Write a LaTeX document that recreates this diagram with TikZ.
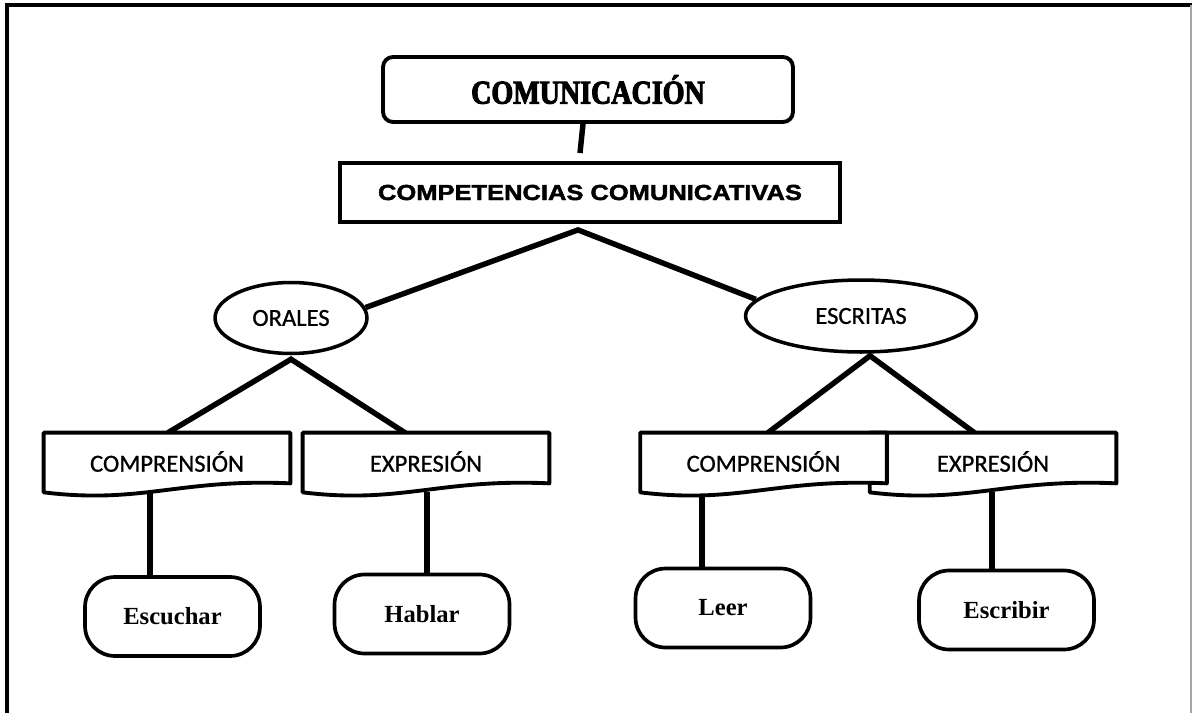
\documentclass[tikz,border=0pt]{standalone}
\usepackage{fontspec}
\usetikzlibrary{shapes.geometric}
\pgfdeclarelayer{background}
\pgfsetlayers{background,main}
\newfontfamily\titlefont{Liberation Serif}[FakeStretch=0.84,FakeBold=3]
\newfontfamily\blackfont{Liberation Sans}[FakeStretch=1.17,FakeBold=2]
\newfontfamily\calibri{Carlito}[FakeBold=0.8]
\newfontfamily\timesfont{Liberation Serif}
\tikzset{
  link/.style={line width=3.1pt},
  titlebox/.style={draw, line width=2.2pt, rounded corners=0.2cm, fill=white,
    minimum width=8.2cm, minimum height=1.3cm,
    font=\titlefont\bfseries\fontsize{19pt}{22pt}\selectfont},
  compbox/.style={draw, line width=2.2pt, fill=white,
    minimum width=10cm, minimum height=1.18cm,
    font=\blackfont\bfseries\fontsize{12.4pt}{14pt}\selectfont},
  kindnode/.style={draw, ellipse, line width=2pt, fill=white, inner sep=0pt,
    font=\calibri\fontsize{14pt}{16pt}\selectfont},
  docnode/.style={minimum width=4.92cm, minimum height=1.18cm,
    font=\calibri\fontsize{14pt}{16pt}\selectfont},
  docline/.style={draw, line width=2.2pt, fill=white, line join=round},
  actbox/.style={draw, line width=2.1pt, rounded corners=0.6cm, fill=white,
    minimum width=3.5cm, minimum height=1.58cm,
    font=\timesfont\bfseries\fontsize{14pt}{16pt}\selectfont}
}
% outline of a document shape round a docnode
\newcommand{\docoutline}[1]{%
  \path[docline] (#1.north west) -- (#1.north east) -- ([yshift=0.18cm]#1.south east)
    .. controls ([xshift=-2.21cm,yshift=0.28cm]#1.south east)
    and ([xshift=1.97cm,yshift=-0.24cm]#1.south west) .. (#1.south west) -- cycle;
  \node[docnode, draw=none] at ([yshift=0.02cm]#1.center) {\csname doctext#1\endcsname};}
\begin{document}
\begin{tikzpicture}[x=0.02cm, y=-0.02cm]
  \useasboundingbox (0,0) rectangle (1192,713);
  % frame
  \draw[line width=2.2pt] (7,713) -- (7,5) -- (1192,5);
  \draw[gray!70, line width=0.6pt] (1191,5) -- (1191,713);

  \node[titlebox] (com) at (588,89.5) {COMUNICACIÓN};
  \node[compbox] (comp) at (590,192.5) {COMPETENCIAS COMUNICATIVAS};

  \node[kindnode, minimum width=3.04cm, minimum height=1.42cm] (oral) at (291,318) {ORALES};
  \node[kindnode, minimum width=4.62cm, minimum height=1.44cm] (escr) at (861,316) {ESCRITAS};

  \node[docnode] (cmpa) at (167,462.5) {};
  \node[docnode] (expa) at (426,462.5) {};
  \node[docnode] (expb) at (993,462.5) {};
  \node[docnode] (cmpb) at (763.5,462.5) {};
  \def\doctextcmpa{COMPRENSIÓN}
  \def\doctextexpa{EXPRESIÓN}
  \def\doctextexpb{EXPRESIÓN}
  \def\doctextcmpb{COMPRENSIÓN}
  \docoutline{cmpa}
  \docoutline{expa}
  \docoutline{expb}
  \docoutline{cmpb}

  \node[actbox] (escu) at (172.5,616.5) {Escuchar};
  \node[actbox] (habl) at (422,614) {Hablar};
  \node[actbox] (leer) at (723,608) {Leer};
  \node[actbox] (escri) at (1006.5,610) {Escribir};

  \begin{pgfonlayer}{background}
    \draw[link] ([xshift=-0.1cm]com.south) -- ([xshift=-0.2cm,yshift=0.16cm]comp.north);
    \draw[link] (oral.8) -- ([xshift=-0.24cm,yshift=-0.12cm]comp.south) -- (escr.171);
    \draw[link] ([xshift=0.02cm]cmpa.north) -- ([yshift=-0.08cm]oral.south) -- ([xshift=-0.36cm,yshift=-0.04cm]expa.north);
    \draw[link] ([xshift=0.09cm]cmpb.north) -- ([xshift=0.18cm,yshift=-0.04cm]escr.south) -- ([xshift=-0.32cm,yshift=-0.04cm]expb.north);
    \draw[link] ([xshift=-0.34cm]cmpa.south) -- ([xshift=-0.34cm]cmpa.south |- escu.north);
    \draw[link] ([xshift=0.02cm]expa.south) -- ([xshift=0.02cm]expa.south |- habl.north);
    \draw[link] ([xshift=-1.23cm]cmpb.south) -- ([xshift=-1.23cm]cmpb.south |- leer.north);
    \draw[link] ([xshift=-0.02cm]expb.south) -- ([xshift=-0.02cm]expb.south |- escri.north);
  \end{pgfonlayer}
\end{tikzpicture}
\end{document}
